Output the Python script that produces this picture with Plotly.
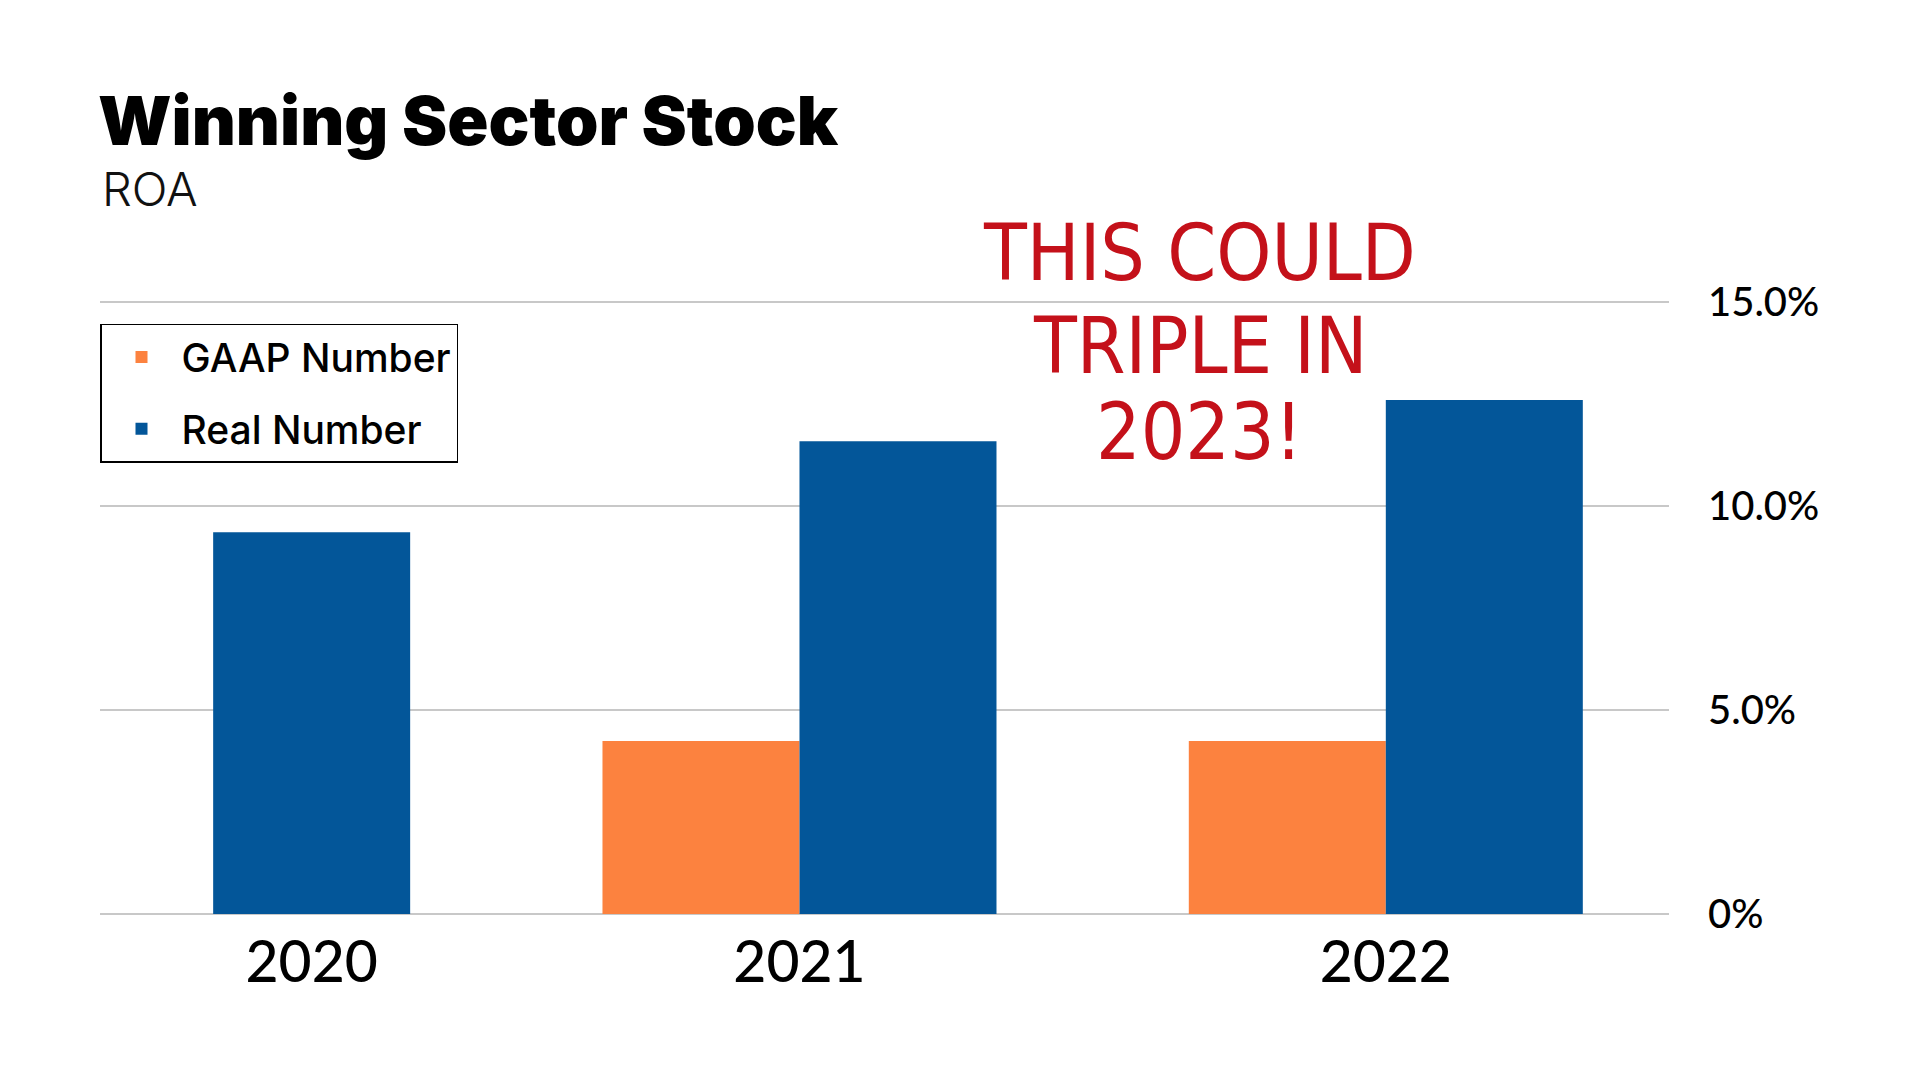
import plotly.graph_objects as go

# ---- data ----
years = ["2020", "2021", "2022"]
gaap_roa = [None, 4.24, 4.24]
real_roa = [9.36, 11.59, 12.6]
series_names = ["GAAP Number", "Real Number"]
y_tick_values = [0, 5, 10, 15]
y_tick_labels = ["0%", "5.0%", "10.0%", "15.0%"]
note_lines = ["THIS COULD", "TRIPLE IN", "2023!"]

# ---- styling ----
ORANGE = "#FC823F"
BLUE = "#035699"
GRID = "#c8c8c8"
RED = "#c4111a"
TICK_FONT = "Lato, 'Open Sans', sans-serif"
HEAD_FONT = "Inter, Lato, sans-serif"
NOTE_FONT = "'Liberation Sans Narrow', 'DejaVu Sans Condensed', sans-serif"

bargap = 0.328
bar_w = (1 - bargap) / 2
x_pos = list(range(len(years)))
# label under the visible bar when a group has only one series
tick_pos = [i + (bar_w / 2 if g is None else 0) for i, g in zip(x_pos, gaap_roa)]

fig = go.Figure()
fig.add_trace(go.Bar(x=x_pos, y=gaap_roa, name=series_names[0], marker_color=ORANGE,
                     marker_line_width=0, legendgroup="g", hoverinfo="skip"))
fig.add_trace(go.Bar(x=x_pos, y=real_roa, name=series_names[1], marker_color=BLUE,
                     marker_line_width=0, legendgroup="r", hoverinfo="skip"))

# handwritten note
note_y = [1.079, 0.926, 0.786]
for line, yy in zip(note_lines, note_y):
    fig.add_annotation(text=line, xref="paper", yref="paper", x=0.701, y=yy,
                       xanchor="center", yanchor="middle", showarrow=False,
                       font=dict(family=NOTE_FONT, size=78, color=RED))

# subtitle
fig.add_annotation(text="ROA", xref="paper", yref="paper", x=0, y=1.183,
                   xanchor="left", yanchor="middle", showarrow=False,
                   font=dict(family=HEAD_FONT, size=47, color="#111111", weight=300))

fig.update_layout(
    width=1920, height=1080,
    paper_bgcolor="white", plot_bgcolor="white",
    margin=dict(l=100, r=251, t=301, b=166, autoexpand=False),
    barmode="group", bargap=bargap, bargroupgap=0,
    title=dict(text="Winning Sector Stock", xref="container", yref="container",
               x=98 / 1920, xanchor="left", y=1 - 121 / 1080, yanchor="middle",
               font=dict(family=HEAD_FONT, size=68, color="black", weight=900)),
    legend=dict(x=0, xanchor="left", y=0.963, yanchor="top",
                bordercolor="black", borderwidth=1.5, bgcolor="white",
                font=dict(family=HEAD_FONT, size=39, color="black", weight=500),
                itemwidth=70, traceorder="grouped", tracegroupgap=18),
    xaxis=dict(range=[-0.193, 2.483], tickvals=tick_pos, ticktext=years,
               showgrid=False, zeroline=False, showline=False, ticks="",
               ticklabelstandoff=10,
               tickfont=dict(family=TICK_FONT, size=57, color="black", weight=500)),
    yaxis=dict(side="right", range=[0, 15.03], tickvals=y_tick_values, ticktext=y_tick_labels,
               showgrid=True, gridcolor=GRID, gridwidth=2,
               zeroline=True, zerolinecolor=GRID, zerolinewidth=2, showline=False,
               ticks="", ticklabelstandoff=38,
               tickfont=dict(family=TICK_FONT, size=40, color="black", weight=500)),
)

fig.write_html("out.html", config={"displayModeBar": False},
               post_script="document.body.style.margin='0px';")
